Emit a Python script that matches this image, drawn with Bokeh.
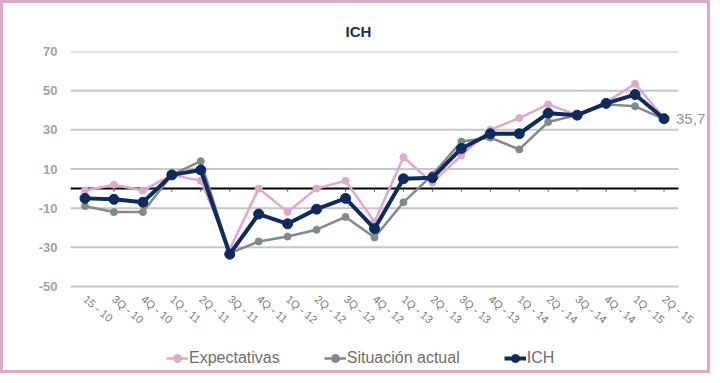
from bokeh.plotting import figure
from bokeh.models import (FixedTicker, Legend, LegendItem, Range1d,
                          ColumnDataSource)
from bokeh.embed import file_html
from bokeh.resources import INLINE
from bokeh.core.properties import value

quarters = ["15 - 10", "3Q - 10", "4Q - 10", "1Q - 11", "2Q - 11", "3Q - 11",
            "4Q - 11", "1Q - 12", "2Q - 12", "3Q - 12", "4Q - 12", "1Q - 13",
            "2Q - 13", "3Q - 13", "4Q - 13", "1Q - 14", "2Q - 14", "3Q - 14",
            "4Q - 14", "1Q - 15", "2Q - 15"]
expectativas = [-1, 2, -1, 7, 4, -31, 0, -12, 0, 4, -17, 16, 3, 17, 30, 36,
                43, 37.5, 44, 53.5, 36]
situacion = [-9, -12, -12, 7, 14, -33, -27, -24.5, -21, -14.5, -25, -7, 7,
             24, 26, 20, 34, 37.5, 43, 42, 35.5]
ich = [-5, -5.5, -7, 7, 9.5, -33.5, -13, -18, -10.5, -5, -20.5, 5, 5.5,
       20.5, 28, 28, 38.5, 37.5, 43.5, 48, 35.7]
y_ticks = [-50, -30, -10, 10, 30, 50, 70]
y_tick_labels = ["-50", "-30", "-10", "10", "30", "50", "70"]
last_label = "35,7"

n = len(quarters)
idx = list(range(n))
y_min, y_max = y_ticks[0], y_ticks[-1]
src = ColumnDataSource(dict(x=idx, exp=expectativas, sit=situacion, ich=ich,
                            zero=[0] * n, tick=[-1.6] * n))
grid_src = ColumnDataSource(dict(y=y_ticks, x0=[-0.5] * len(y_ticks),
                                 x1=[n - 0.5] * len(y_ticks)))

# pixel geometry: value axis 235 px tall for 120 units, 608 px for 21 quarters;
# the frame is extended right (end label) and down (labels + legend)
px_per_y = 235.0 / (y_max - y_min)
px_per_x = 608.0 / n
x_end = -0.5 + 640.0 / px_per_x
y_start = y_max - 323.0 / px_per_y

p = figure(width=710, height=373, output_backend="svg", toolbar_location=None,
           x_range=Range1d(-0.5, x_end), y_range=Range1d(y_start, y_max),
           min_border_left=67, min_border_right=3, min_border_top=48,
           min_border_bottom=2,
           styles={"border": "3px solid #dca9ca"})
p.outline_line_color = None
p.background_fill_color = "white"
p.border_fill_color = "white"

p.title.text = "ICH"
p.title.align = "left"
p.title.offset = 275
p.title.text_font = "Liberation Sans"
p.title.text_font_size = "15px"
p.title.text_font_style = "bold"
p.title.text_color = "#1c2b66"
p.title.standoff = 24

# category axis drawn at the bottom of the value range
xa = p.xaxis[0]
xa.fixed_location = y_min
xa.ticker = FixedTicker(ticks=idx)
xa.major_label_overrides = {i: q for i, q in enumerate(quarters)}
xa.major_label_orientation = -0.70
xa.axis_line_color = None
xa.major_tick_line_color = None
xa.minor_tick_line_color = None
xa.major_tick_out = 0
xa.major_label_standoff = 11
xa.major_label_text_font = "Liberation Sans"
xa.major_label_text_font_size = "11px"
xa.major_label_text_color = "#7a7a7a"

ya = p.yaxis[0]
ya.ticker = FixedTicker(ticks=y_ticks)
ya.major_label_overrides = {t: s for t, s in zip(y_ticks, y_tick_labels)}
ya.axis_line_color = None
ya.major_tick_line_color = None
ya.minor_tick_line_color = None
ya.major_tick_out = 0
ya.major_label_standoff = 13
ya.major_label_text_font = "Liberation Sans"
ya.major_label_text_font_size = "13px"
ya.major_label_text_font_style = "bold"
ya.major_label_text_color = "#a3a1a8"

p.xgrid.visible = False
p.ygrid.visible = False

# horizontal grid lines over the category span
p.segment(x0="x0", y0="y", x1="x1", y1="y", source=grid_src,
          line_color="#c6c6c6", line_width=2)
# zero line with small ticks
p.segment(x0=[-0.5], y0=[0], x1=[n - 0.5], y1=[0], line_color="black",
          line_width=2)
p.segment(x0="x", y0="zero", x1="x", y1="tick", source=src,
          line_color="#555555", line_width=1)

series = [("Expectativas", "exp", "#dfa9cc", 2.5, 7),
          ("Situación actual", "sit", "#7e8b89", 2.5, 7),
          ("ICH", "ich", "#0f2a5e", 4, 10)]
items = []
for name, col, color, lw, sz in series:
    l = p.line("x", col, source=src, line_color=color, line_width=lw)
    s = p.scatter("x", col, source=src, size=sz, fill_color=color,
                  line_color=color)
    items.append(LegendItem(label=name, renderers=[l, s]))

p.text(x=[idx[-1]], y=[ich[-1]], text=[last_label], x_offset=12,
       text_align="left", text_baseline="middle",
       text_font=value("Liberation Sans"), text_font_size="15px",
       text_color="#8b95a8")

legend = Legend(items=items, orientation="horizontal", location=(96, 6),
                border_line_alpha=0, background_fill_alpha=0, padding=0,
                margin=0, spacing=44, label_standoff=1, glyph_width=22,
                glyph_height=20, label_text_font="Liberation Sans",
                label_text_font_size="16px", label_text_color="#6e6e6e")
p.add_layout(legend, "center")

open("out.html", "w").write(file_html(p, INLINE))
